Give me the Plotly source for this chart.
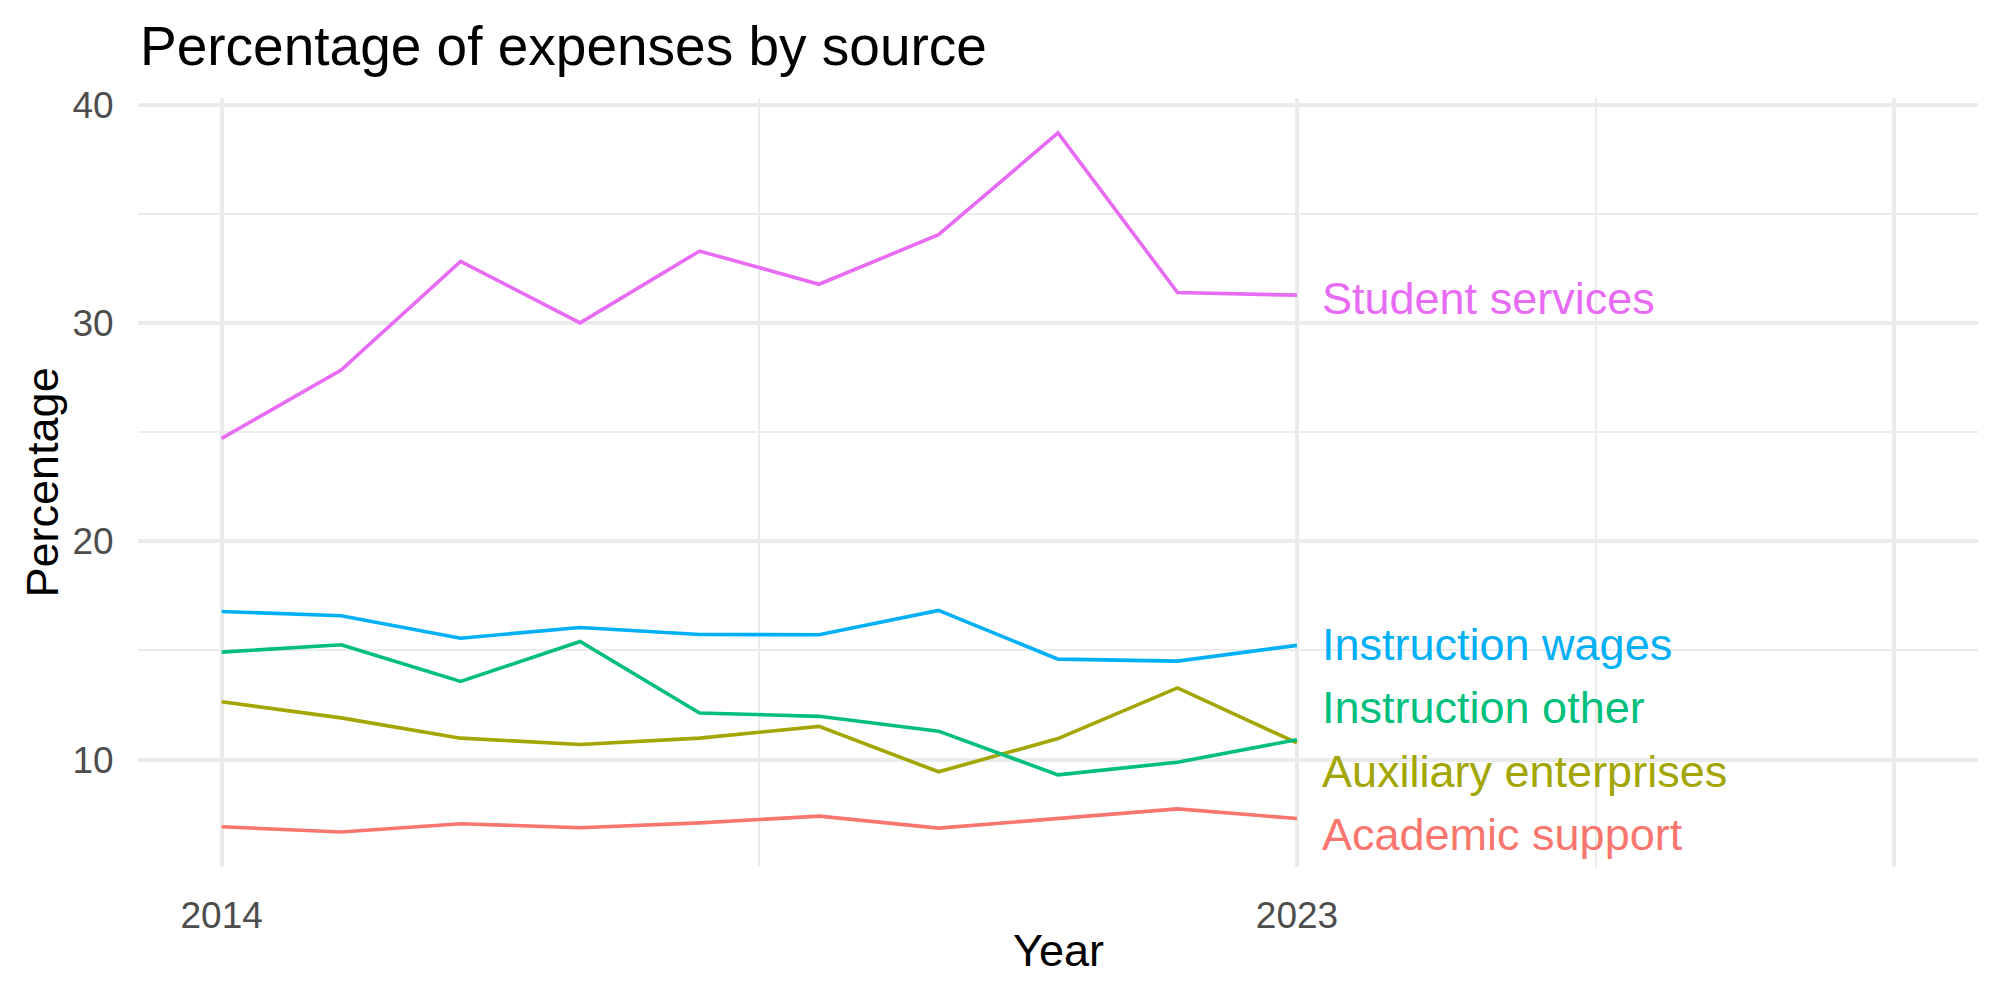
import plotly.graph_objects as go

years = list(range(2014, 2024))
series_names = ["Academic support", "Auxiliary enterprises", "Instruction other",
                "Instruction wages", "Student services"]
academic_support = [6.92, 6.68, 7.06, 6.88, 7.10, 7.41, 6.86, 7.30, 7.74, 7.30]
auxiliary_enterprises = [12.65, 11.91, 10.98, 10.69, 10.98, 11.52, 9.44, 10.96, 13.28, 10.76]
instruction_other = [14.92, 15.26, 13.58, 15.41, 12.13, 11.98, 11.30, 9.30, 9.88, 10.91]
instruction_wages = [16.78, 16.59, 15.56, 16.05, 15.73, 15.72, 16.83, 14.60, 14.51, 15.23]
student_services = [24.71, 27.84, 32.82, 30.00, 33.29, 31.77, 34.04, 38.70, 31.39, 31.27]
values = [academic_support, auxiliary_enterprises, instruction_other,
          instruction_wages, student_services]
colors = ["#F8766D", "#A3A500", "#00BF7D", "#00B0F6", "#E76BF3"]

x_major = [2014, 2023, 2028]
x_labels = ["2014", "2023", ""]
x_minor = [2018.5, 2025.5]
y_major = [10, 20, 30, 40]
y_minor = [15, 25, 35]

FONT = "Liberation Sans, Arial, Helvetica, sans-serif"
GRID = "#EBEBEB"

fig = go.Figure()
for name, vals, col in zip(series_names, values, colors):
    fig.add_trace(go.Scatter(x=years, y=vals, mode="lines", name=name,
                             line=dict(color=col, width=3.6), showlegend=False))

# simple label repel (cluster-based spreading)
min_gap = 2.9
last = [(v[-1], i) for i, v in enumerate(values)]
last.sort()
clusters = [[item] for item in last]
changed = True
while changed:
    changed = False
    pos = []
    for c in clusters:
        m = sum(v for v, _ in c) / len(c)
        n = len(c)
        pos.append([m + (k - (n - 1) / 2) * min_gap for k in range(n)])
    for j in range(len(clusters) - 1):
        if pos[j + 1][0] - pos[j][-1] < min_gap:
            clusters[j] = clusters[j] + clusters[j + 1]
            del clusters[j + 1]
            changed = True
            break
label_y = {}
for c in clusters:
    m = sum(v for v, _ in c) / len(c)
    n = len(c)
    for k, (_, idx) in enumerate(c):
        label_y[idx] = m + (k - (n - 1) / 2) * min_gap

for i, name in enumerate(series_names):
    fig.add_annotation(x=years[-1] + 0.19, y=label_y[i], text=name, showarrow=False,
                       xanchor="left", yanchor="middle", xref="x", yref="y", yshift=-3,
                       font=dict(family=FONT, size=45, color=colors[i]))

all_vals = [v for s in values for v in s]
ymin, ymax = min(all_vals), max(all_vals)
yspan = ymax - ymin
xlo, xhi = 2014, 2028
xspan = xhi - xlo

fig.update_xaxes(range=[xlo - 0.05 * xspan, xhi + 0.05 * xspan],
                 tickmode="array", tickvals=x_major, ticktext=x_labels,
                 showgrid=True, gridcolor=GRID, gridwidth=4, zeroline=False,
                 showline=False, ticks="outside", ticklen=16, tickcolor="rgba(0,0,0,0)",
                 tickfont=dict(family=FONT, size=37, color="#4D4D4D"),
                 minor=dict(tickmode="array", tickvals=x_minor, showgrid=True,
                            gridcolor=GRID, gridwidth=2, ticks=""))
fig.update_yaxes(range=[ymin - 0.05 * yspan, ymax + 0.05 * yspan],
                 tickmode="array", tickvals=y_major,
                 showgrid=True, gridcolor=GRID, gridwidth=4, zeroline=False,
                 showline=False, ticks="outside", ticklen=16, tickcolor="rgba(0,0,0,0)",
                 tickfont=dict(family=FONT, size=37, color="#4D4D4D"),
                 minor=dict(tickmode="array", tickvals=y_minor, showgrid=True,
                            gridcolor=GRID, gridwidth=2, ticks=""))

plot_h = 1000 - 98 - 133
plot_w = 2000 - 138 - 22
fig.add_annotation(text="Year", x=0.5, y=-(950 - 867) / plot_h, xref="paper", yref="paper",
                   showarrow=False, xanchor="center", yanchor="middle",
                   font=dict(family=FONT, size=45, color="black"))
fig.add_annotation(text="Percentage", x=-(138 - 42) / plot_w, y=0.5, xref="paper", yref="paper",
                   showarrow=False, textangle=-90, xanchor="center", yanchor="middle",
                   font=dict(family=FONT, size=45, color="black"))

fig.update_layout(
    width=2000, height=1000,
    margin=dict(l=138, r=22, t=98, b=133),
    paper_bgcolor="white", plot_bgcolor="white",
    title=dict(text="Percentage of expenses by source", x=140 / 2000, xref="container",
               xanchor="left", y=1 - 46 / 1000, yref="container", yanchor="middle",
               font=dict(family=FONT, size=55, color="black")),
    font=dict(family=FONT),
)

fig.write_html("out.html")
